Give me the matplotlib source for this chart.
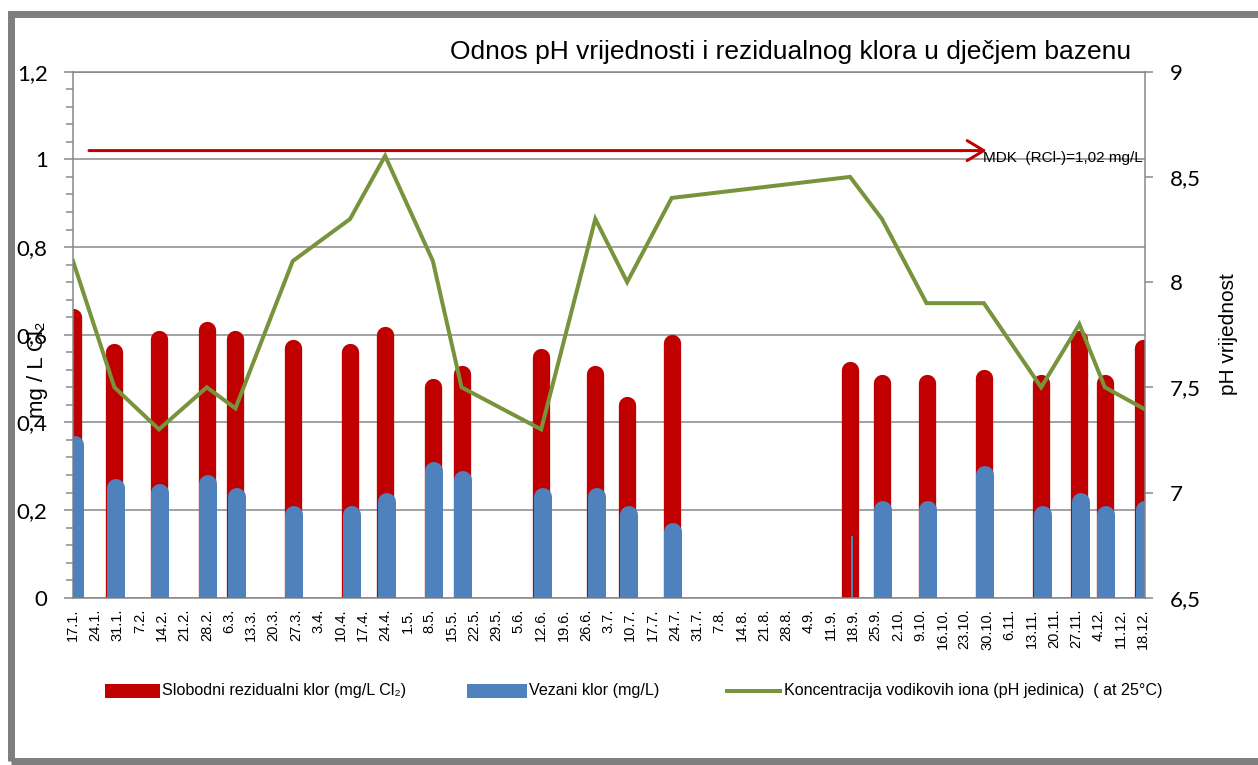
import matplotlib
matplotlib.use("Agg")
import matplotlib.pyplot as plt
import matplotlib.transforms as mtransforms
from matplotlib.patches import Rectangle
from matplotlib.lines import Line2D
from matplotlib.ticker import MultipleLocator
from matplotlib import font_manager
import pandas as pd

# ---------------- data ----------------
YEAR = 2012
sample_dates = ['17.1.', '30.1.', '13.2.', '28.2.', '8.3.', '26.3.', '13.4.', '24.4.',
                '9.5.', '18.5.', '12.6.', '29.6.', '9.7.', '23.7.', '17.9.', '27.9.',
                '11.10.', '29.10.', '16.11.', '28.11.', '6.12.', '18.12.']
free_chlorine = [0.66, 0.58, 0.61, 0.63, 0.61, 0.59, 0.58, 0.62,
                 0.50, 0.53, 0.57, 0.53, 0.46, 0.60, 0.54, 0.51,
                 0.51, 0.52, 0.51, 0.61, 0.51, 0.59]
bound_chlorine = [0.37, 0.27, 0.26, 0.28, 0.25, 0.21, 0.21, 0.24,
                  0.31, 0.29, 0.25, 0.25, 0.21, 0.17, 0.14, 0.22,
                  0.22, 0.30, 0.21, 0.24, 0.21, 0.22]
ph_values = [8.1, 7.5, 7.3, 7.5, 7.4, 8.1, 8.3, 8.6,
             8.1, 7.5, 7.3, 8.3, 8.0, 8.4, 8.5, 8.3,
             7.9, 7.9, 7.5, 7.8, 7.5, 7.4]
week_labels = ['17.1.', '24.1.', '31.1.', '7.2.', '14.2.', '21.2.', '28.2.', '6.3.',
               '13.3.', '20.3.', '27.3.', '3.4.', '10.4.', '17.4.', '24.4.', '1.5.',
               '8.5.', '15.5.', '22.5.', '29.5.', '5.6.', '12.6.', '19.6.', '26.6.',
               '3.7.', '10.7.', '17.7.', '24.7.', '31.7.', '7.8.', '14.8.', '21.8.',
               '28.8.', '4.9.', '11.9.', '18.9.', '25.9.', '2.10.', '9.10.', '16.10.',
               '23.10.', '30.10.', '6.11.', '13.11.', '20.11.', '27.11.', '4.12.',
               '11.12.', '18.12.']
left_ticks = [0, 0.2, 0.4, 0.6, 0.8, 1.0, 1.2]
left_tick_labels = ['0', '0,2', '0,4', '0,6', '0,8', '1', '1,2']
right_ticks = [6.5, 7.0, 7.5, 8.0, 8.5, 9.0]
right_tick_labels = ['6,5', '7', '7,5', '8', '8,5', '9']
mdk_value = 1.02
mdk_start, mdk_end = '22.1.', '29.10.'
mdk_text = 'MDK  (RCl-)=1,02 mg/L'
title = 'Odnos pH vrijednosti i rezidualnog klora u dječjem bazenu'
ylabel_left = 'mg / L Cl₂'
ylabel_right = 'pH vrijednost'
legend_labels = ['Slobodni rezidualni klor (mg/L Cl₂)', 'Vezani klor (mg/L)',
                 'Koncentracija vodikovih iona (pH jedinica)  ( at 25°C)']
thin_bound_dates = ['17.9.']

# ---------------- helpers ----------------
START = pd.Timestamp(YEAR, 1, 17)


def to_day(s):
    d, m = s.strip('.').split('.')
    return (pd.Timestamp(YEAR, int(m), int(d)) - START).days


x_samples = [to_day(s) for s in sample_dates]
x_weeks = [to_day(s) for s in week_labels]

names = {f.name for f in font_manager.fontManager.ttflist}
narrow_ok = 'Liberation Sans Narrow' in names
LEG_FAMILY = ['Liberation Sans Narrow', 'Liberation Sans', 'DejaVu Sans'] if narrow_ok else ['Liberation Sans', 'DejaVu Sans']
LEG_SIZE = 14 if narrow_ok else 11.6
NUM_FAMILY = ['Lato', 'DejaVu Sans']
ARIAL = ['Liberation Sans', 'DejaVu Sans']

RED = '#C00000'
BLUE = '#4F81BD'
GREEN = '#77933C'
GRID = '#868686'
FRAME = '#7F7F7F'

DPI = 100
W, H = 1258, 765
PT = 72 / DPI

fig = plt.figure(figsize=(W / DPI, H / DPI), dpi=DPI)
fig.patch.set_facecolor('white')

L, R, T, B = 73, 1145, 71.7, 597.7
ax = fig.add_axes([L / W, 1 - B / H, (R - L) / W, (B - T) / H])
ax2 = ax.twinx()

x0, x1 = 0, 336.6
ax.set_xlim(x0, x1)
ax.set_ylim(0, 1.2)
ax2.set_ylim(6.5, 9)


def rounded_bars(axis, xs, hs, width_px, color, dx_px=0.0, z=2):
    """Bars with a rounded top: thick vertical segments with round caps,
    shifted down by the cap radius so the cap ends at the value."""
    coll = axis.vlines(xs, [0] * len(xs), hs, colors=color, linewidth=width_px * PT, zorder=z)
    coll.set_capstyle('round')
    off = mtransforms.ScaledTranslation(dx_px / DPI, -(width_px / 2) / DPI, fig.dpi_scale_trans)
    coll.set_transform(axis.transData + off)
    return coll


# free chlorine (red)
rounded_bars(ax, x_samples, free_chlorine, 17.3, RED, 0.0, 2)

# bound chlorine (blue)
thick_x = [x for x, s in zip(x_samples, sample_dates) if s not in thin_bound_dates]
thick_h = [h for h, s in zip(bound_chlorine, sample_dates) if s not in thin_bound_dates]
thin_x = [x for x, s in zip(x_samples, sample_dates) if s in thin_bound_dates]
thin_h = [h for h, s in zip(bound_chlorine, sample_dates) if s in thin_bound_dates]
rounded_bars(ax, thick_x, thick_h, 18.0, BLUE, 1.5, 3)
tl = ax.vlines(thin_x, [0] * len(thin_x), thin_h, colors=BLUE, linewidth=2 * PT, zorder=3)
tl.set_capstyle('butt')
tl.set_transform(ax.transData + mtransforms.ScaledTranslation(1.5 / DPI, 0, fig.dpi_scale_trans))

# pH line
ax2.plot(x_samples, ph_values, color=GREEN, lw=4 * PT, zorder=5, solid_joinstyle='miter')

# MDK arrow
ax.annotate('', xy=(to_day(mdk_end) + 0.9, mdk_value), xytext=(to_day(mdk_start), mdk_value),
            arrowprops=dict(arrowstyle='->,head_length=0.6,head_width=0.36', color=RED,
                            lw=3 * PT, mutation_scale=20, shrinkA=0, shrinkB=0),
            zorder=6, annotation_clip=False)
ax.text(to_day(mdk_end) - 0.3, mdk_value - 0.017, mdk_text, fontsize=11, family=ARIAL,
        ha='left', va='center', zorder=7, color='black')

# axes styling
ax.set_axisbelow(True)
ax.grid(axis='y', which='major', color=GRID, lw=1.5 * PT)
ax.set_yticks(left_ticks)
ax.set_yticklabels(left_tick_labels, family=NUM_FAMILY, fontsize=16)
ax.yaxis.set_minor_locator(MultipleLocator(0.04))
ax.tick_params(axis='y', which='major', length=8.7 * PT, width=1.5 * PT, color=GRID, pad=12)
ax.tick_params(axis='y', which='minor', length=7 * PT, width=1.5 * PT, color=GRID)
ax.set_xticks(x_weeks)
ax.set_xticklabels(week_labels, rotation=90, family=ARIAL, fontsize=10.5)
ax.tick_params(axis='x', length=0, pad=8)

for sp in ['left', 'bottom', 'top']:
    ax.spines[sp].set_color(GRID)
    ax.spines[sp].set_linewidth(1.5 * PT)
ax.spines['right'].set_visible(False)

ax2.set_yticks(right_ticks)
ax2.set_yticklabels(right_tick_labels, family=NUM_FAMILY, fontsize=16)
ax2.tick_params(axis='y', length=8 * PT, width=1.5 * PT, color=GRID, pad=12)
for sp in ['left', 'bottom', 'top']:
    ax2.spines[sp].set_visible(False)
ax2.spines['right'].set_color(GRID)
ax2.spines['right'].set_linewidth(1.5 * PT)

# axis titles
fig.text(38 / W, 1 - 370 / H, ylabel_left, rotation=90, ha='center', va='center',
         fontsize=16, family=ARIAL)
fig.text(1228 / W, 1 - 334 / H, ylabel_right, rotation=90, ha='center', va='center',
         fontsize=15, family=ARIAL)

# title
fig.text(1131 / W, 1 - 52 / H, title, ha='right', va='center', fontsize=19, family=ARIAL)

# legend (manual)
fy = 1 - 691 / H
fig.add_artist(Rectangle((105 / W, 1 - 698 / H), 55 / W, 14 / H, transform=fig.transFigure,
                         facecolor=RED, edgecolor='none'))
fig.text(162 / W, fy, legend_labels[0], ha='left', va='center', fontsize=LEG_SIZE, family=LEG_FAMILY)
fig.add_artist(Rectangle((467 / W, 1 - 698 / H), 60 / W, 14 / H, transform=fig.transFigure,
                         facecolor=BLUE, edgecolor='none'))
fig.text(529 / W, fy, legend_labels[1], ha='left', va='center', fontsize=LEG_SIZE, family=LEG_FAMILY)
fig.add_artist(Line2D([727 / W, 780 / W], [fy, fy], transform=fig.transFigure, color=GREEN,
                      lw=4 * PT))
fig.text(784 / W, fy, legend_labels[2], ha='left', va='center', fontsize=LEG_SIZE, family=LEG_FAMILY)

# outer frame
fw = 7
fig.add_artist(Rectangle((10.5 / W, 1 - 761 / H), (W + 20) / W, (761 - 13.5) / H,
                         transform=fig.transFigure, facecolor='none', edgecolor=FRAME,
                         lw=fw * PT, joinstyle='miter'))

fig.savefig('out.png', dpi=DPI, facecolor='white')
